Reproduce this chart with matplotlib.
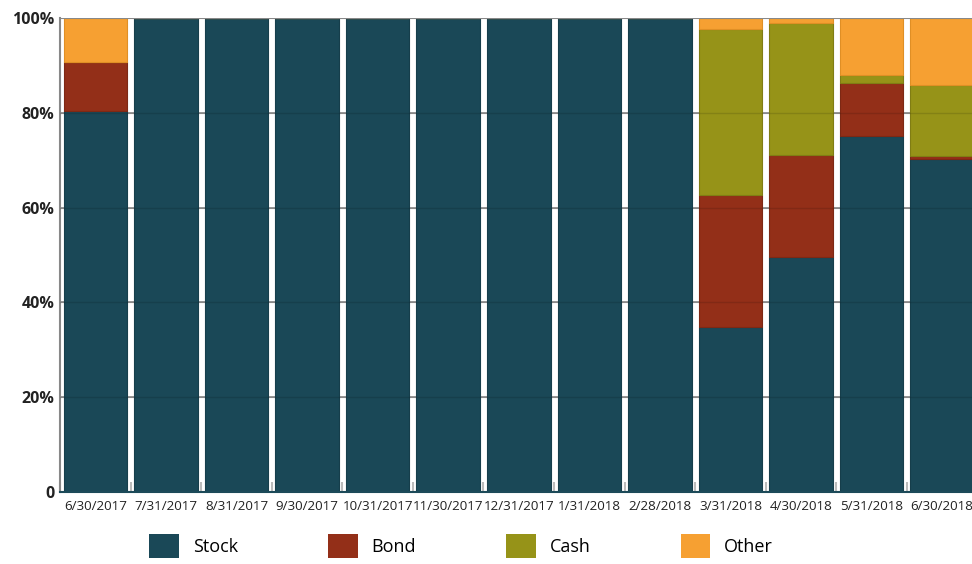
import matplotlib.pyplot as plt
import numpy as np
from matplotlib.patches import Patch

# allocation by month-end date (percent)
dates = ["6/30/2017", "7/31/2017", "8/31/2017", "9/30/2017", "10/31/2017", "11/30/2017",
         "12/31/2017", "1/31/2018", "2/28/2018", "3/31/2018", "4/30/2018", "5/31/2018", "6/30/2018"]
stock = [80.3, 100, 100, 100, 100, 100, 100, 100, 100, 34.8, 49.6, 75.1, 70.3]
bond = [10.4, 0, 0, 0, 0, 0, 0, 0, 0, 27.9, 21.6, 11.2, 0.6]
cash = [0, 0, 0, 0, 0, 0, 0, 0, 0, 35.0, 27.8, 1.7, 15.0]
other = [9.3, 0, 0, 0, 0, 0, 0, 0, 0, 2.3, 1.0, 12.0, 14.1]

series = ["Stock", "Bond", "Cash", "Other"]
colors = ["#1a4857", "#932f18", "#969318", "#f6a032"]
edges = ["#163e4b", "#7d2814", "#807d14", "#e08f25"]

fig = plt.figure(figsize=(9.72, 5.64), dpi=100)
ax = fig.add_axes([60 / 972, 72 / 564, 917.5 / 972, 474 / 564])

x = np.arange(len(dates))
bottom = np.zeros(len(dates))
for name, vals, c, e in zip(series, [stock, bond, cash, other], colors, edges):
    vals = np.array(vals)
    ax.bar(x, vals, width=0.9, bottom=bottom, color=c, edgecolor=e, linewidth=0.8, zorder=2)
    bottom += vals

ax.set_xlim(-0.5, len(dates) - 0.5)
ax.set_ylim(0, 100)

# gridlines, faintly showing through the bars
for yv in [20, 40, 60, 80]:
    ax.axhline(yv, color="#888888", linewidth=1.2, zorder=1)
    ax.axhline(yv, color="#000000", linewidth=1.0, alpha=0.12, zorder=3)
ax.axhline(100, color="#888888", linewidth=1.5, zorder=3)

ax.set_yticks([0, 20, 40, 60, 80, 100])
ax.set_yticklabels(["0", "20%", "40%", "60%", "80%", "100%"],
                   fontsize=11.5, fontweight="bold", family=["Open Sans", "DejaVu Sans"], color="#222222")
ax.tick_params(axis="y", length=0, pad=4)

ax.set_xticks(x)
ax.set_xticklabels(dates, fontsize=9.6, family=["Open Sans", "DejaVu Sans"], color="#222222")
ax.tick_params(axis="x", length=0, pad=6)
# small tick marks at bar boundaries
ax.set_xticks(np.arange(len(dates) + 1) - 0.5, minor=True)
ax.tick_params(axis="x", which="minor", direction="in", length=7, color="#bbbbbb", width=1.5)

for s in ["top", "right"]:
    ax.spines[s].set_visible(False)
ax.spines["left"].set_color("#888888")
ax.spines["left"].set_linewidth(1.5)
ax.spines["bottom"].set_color("#1c4a59")
ax.spines["bottom"].set_linewidth(1.5)

handles = [Patch(facecolor=c, label=n) for n, c in zip(series, colors)]
fig.legend(handles=handles, loc="center", bbox_to_anchor=(461 / 972, 1 - 546 / 564), ncol=4,
           frameon=False, prop={"family": ["Open Sans", "DejaVu Sans"], "size": 13},
           handlelength=1.65, handleheight=1.65, handletextpad=0.75, columnspacing=5.0)

fig.savefig("out.png", dpi=100)
